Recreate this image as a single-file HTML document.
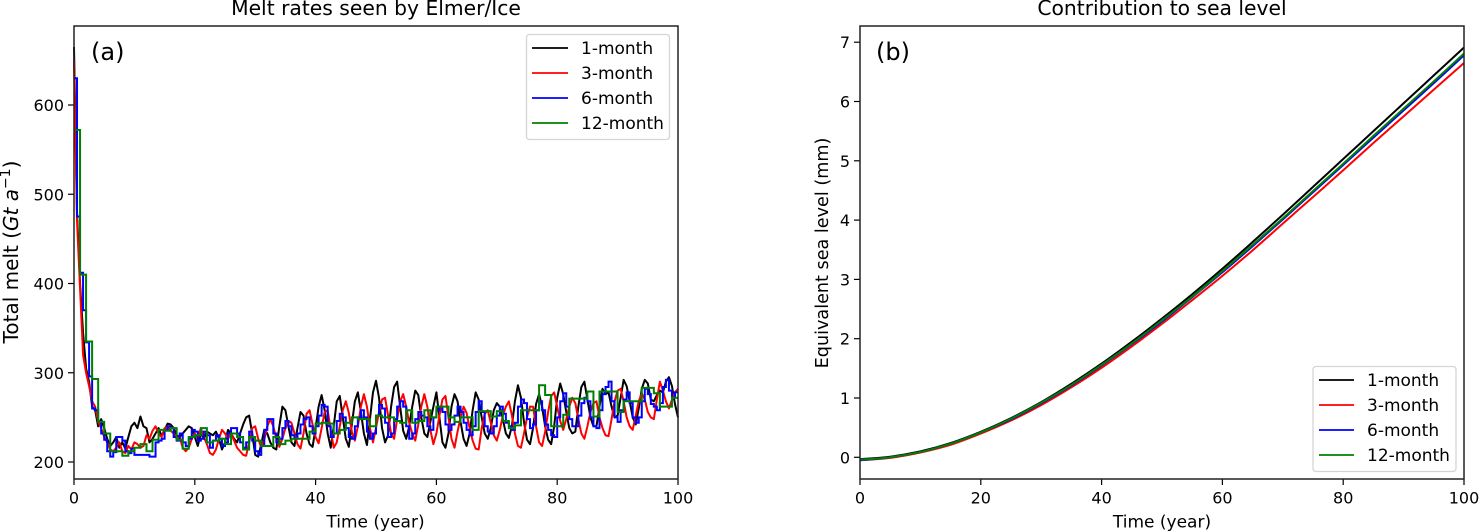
<!DOCTYPE html>
<html>
<head>
<meta charset="utf-8">
<title>Melt rates and sea level contribution</title>
<style>
html,body{margin:0;padding:0;background:#fff;}
svg{display:block;font-family:"DejaVu Sans","Liberation Sans",sans-serif;}
text{fill:#000;}
</style>
</head>
<body>
<svg id="fig" width="1480" height="532" viewBox="0 0 1480 532" xmlns="http://www.w3.org/2000/svg">
  <rect width="1480" height="532" fill="#fff"/>
  <g id="panelA"></g>
  <g id="panelB"></g>

  <text x="376" y="15" font-size="20.3" text-anchor="middle">Melt rates seen by Elmer/Ice</text>
  <text x="1162" y="15" font-size="20.3" text-anchor="middle">Contribution to sea level</text>
  <text x="91" y="60" font-size="24">(a)</text>
  <text x="876" y="60" font-size="24">(b)</text>
  <text x="375.5" y="527.5" font-size="17" text-anchor="middle">Time (year)</text>
  <text x="1162" y="527.5" font-size="17" text-anchor="middle">Time (year)</text>
  <text transform="translate(18,252) rotate(-90)" font-size="20" text-anchor="middle">Total melt (<tspan font-style="italic">Gt a</tspan><tspan dy="-8" font-size="14">−1</tspan><tspan dy="8">)</tspan></text>
  <text transform="translate(828,253) rotate(-90)" font-size="17.6" text-anchor="middle">Equivalent sea level (mm)</text>

  <g>
    <rect x="526.5" y="34.5" width="143" height="105" rx="3" fill="#fff" fill-opacity="0.85" stroke="#d5d5d5" stroke-width="1.3"/>
    <g><line x1="532" x2="568" y1="48" y2="48" stroke="#000" stroke-width="1.7"/><text x="581" y="54" font-size="17">1-month</text></g>
    <g><line x1="532" x2="568" y1="73" y2="73" stroke="#f00" stroke-width="1.7"/><text x="581" y="79" font-size="17">3-month</text></g>
    <g><line x1="532" x2="568" y1="98" y2="98" stroke="#00f" stroke-width="1.7"/><text x="581" y="104" font-size="17">6-month</text></g>
    <g><line x1="532" x2="568" y1="123" y2="123" stroke="#008000" stroke-width="1.7"/><text x="581" y="129" font-size="17">12-month</text></g>
  </g>
  <g>
    <rect x="1313" y="366.5" width="143" height="105" rx="3" fill="#fff" fill-opacity="0.85" stroke="#d5d5d5" stroke-width="1.3"/>
    <g><line x1="1319" x2="1354" y1="380" y2="380" stroke="#000" stroke-width="1.7"/><text x="1367" y="386" font-size="17">1-month</text></g>
    <g><line x1="1319" x2="1354" y1="405" y2="405" stroke="#f00" stroke-width="1.7"/><text x="1367" y="411" font-size="17">3-month</text></g>
    <g><line x1="1319" x2="1354" y1="430" y2="430" stroke="#00f" stroke-width="1.7"/><text x="1367" y="436" font-size="17">6-month</text></g>
    <g><line x1="1319" x2="1354" y1="455" y2="455" stroke="#008000" stroke-width="1.7"/><text x="1367" y="461" font-size="17">12-month</text></g>
  </g>
</svg>
<script>
// Panel (a): total melt, sampled every half year for the 1-, 3-, 6-month runs, yearly for the 12-month run
const melt1Month = [665,480,400,345,305,290,262,258,240,248,238,226,218,222,228,216,222,215,228,240,244,238,251,240,238,222,226,232,238,229,236,243,242,
238,230,228,232,236,240,238,228,218,232,226,234,232,230,234,226,214,222,236,232,226,222,232,242,250,252,232,208,206,220,236,232,222,216,214,240,262,258,240,222,218,238,256,252,232,220,217,238,262,275,258,232,216,240,268,274,250,226,217,242,268,278,256,232,219,248,278,291,272,238,222,230,262,284,290,262,235,226,240,262,280,275,250,232,228,245,262,
278,250,222,216,232,262,276,268,245,226,218,232,258,278,270,250,232,226,238,258,266,262,248,232,227,240,268,286,272,245,225,220,238,265,276,262,240,225,220,240,272,288,276,256,238,232,234,262,284,290,270,250,240,240,262,282,276,278,262,250,252,272,292,285,268,250,242,260,282,292,288,270,268,275,280,278,290,295,285,265,250];
const melt3Month = [650,470,395,320,300,285,268,262,245,238,228,222,214,212,216,222,212,210,218,214,222,220,216,218,230,226,235,240,232,228,238,240,
235,232,226,228,216,212,216,226,232,226,238,228,220,210,208,214,226,236,232,226,232,224,216,212,208,207,222,238,240,226,216,225,240,248,240,226,217,226,238,246,244,232,220,215,232,254,258,242,228,221,238,256,258,236,216,222,240,258,268,255,234,224,240,262,276,262,238,222,238,256,270,272,252,232,226,248,268,276,262,244,232,224,242,262,276,262,236,220,
232,252,270,274,250,226,216,234,250,262,255,238,224,215,214,238,254,258,244,230,224,236,252,262,268,252,232,218,216,232,250,262,262,240,222,218,234,256,274,278,262,246,236,248,262,272,266,248,232,226,240,256,266,268,250,238,230,229,248,268,280,282,268,250,240,236,252,268,277,270,256,250,248,270,290,280,268,260,270,278,282];
const melt6Month = [630,475,412,370,334,296,260,258,245,232,225,212,206,211,228,228,224,212,210,215,208,208,208,208,208,206,206,222,224,226,236,240,
238,228,224,232,222,218,226,236,234,224,226,234,230,216,224,230,226,218,222,232,238,238,232,222,216,222,234,224,212,208,218,236,248,248,232,222,226,238,246,240,230,226,232,242,248,250,240,232,240,252,264,262,240,228,232,246,254,250,238,228,226,240,250,258,250,234,226,232,252,264,260,244,228,232,248,262,268,262,240,226,232,248,256,252,250,240,236,250,
258,262,256,242,236,242,252,262,256,244,236,230,240,256,268,256,240,234,232,240,252,262,254,244,240,236,244,262,270,266,248,238,242,258,268,258,242,236,230,228,250,268,277,262,248,240,240,252,266,272,268,250,240,238,258,276,284,290,268,250,245,258,270,278,266,250,244,250,268,282,276,265,262,258,266,284,292,280,272,278];
const melt12Month = [572,410,335,293,245,232,212,212,207,212,216,220,212,225,236,235,238,225,215,228,230,238,222,224,226,220,232,228,214,228,224,218,218,228,220,224,226,226,226,234,243,244,243,232,236,244,250,248,248,240,252,250,250,246,244,258,244,246,258,250,262,262,250,245,250,250,236,257,257,251,257,246,238,241,258,258,258,286,275,240,240,253,271,271,271,279,251,279,279,279,256,268,268,268,283,283,277,262,262,272];
const meltTicksX = [0,20,40,60,80,100];
const meltTicksY = [200,300,400,500,600];

// Panel (b): equivalent sea level, sampled every five years
const sea1Month = [-0.03,0.01,0.10,0.24,0.43,0.66,0.93,1.24,1.58,1.95,2.34,2.75,3.18,3.63,4.09,4.56,5.03,5.50,5.97,6.44,6.91];
const sea3Month = [-0.05,-0.01,0.08,0.21,0.40,0.62,0.88,1.18,1.51,1.87,2.25,2.65,3.06,3.49,3.94,4.39,4.84,5.30,5.75,6.20,6.65];
const sea6Month = [-0.05,0,0.09,0.23,0.42,0.64,0.91,1.21,1.55,1.91,2.29,2.70,3.12,3.56,4.01,4.47,4.93,5.39,5.85,6.31,6.78];
const sea12Month = [-0.04,0,0.09,0.23,0.42,0.65,0.92,1.22,1.56,1.92,2.31,2.71,3.14,3.58,4.03,4.49,4.95,5.42,5.88,6.34,6.81];
const seaTicksX = [0,20,40,60,80,100];
const seaTicksY = [0,1,2,3,4,5,6,7];

const SVG_NS = 'http://www.w3.org/2000/svg';
const xA = t => 74 + t * 6.04;
const yA = v => 462 - (v - 200) * 0.8925;
const xB = t => 860 + t * 6.04;
const yB = v => 457.3 - v * 59.3;

function make(parent, tag, attrs, content) {
  const el = document.createElementNS(SVG_NS, tag);
  for (const k in attrs) el.setAttribute(k, attrs[k]);
  if (content !== undefined) el.textContent = content;
  parent.appendChild(el);
  return el;
}

function drawAxes(panel, box, ticksX, ticksY, x, y, prefix) {
  for (const t of ticksX) {
    const px = x(t);
    const tick = make(panel, 'line', {x1: px, x2: px, y1: box.bottom, y2: box.bottom + 6, stroke: '#000', 'stroke-width': 1.2});
    
    
    const label = make(panel, 'text', {x: px, y: box.bottom + 24.5, 'font-size': 16, 'text-anchor': 'middle'}, String(t));
    
    
  }
  for (const v of ticksY) {
    const py = y(v);
    const tick = make(panel, 'line', {x1: box.left - 6, x2: box.left, y1: py, y2: py, stroke: '#000', 'stroke-width': 1.2});
    
    
    const label = make(panel, 'text', {x: box.left - 10, y: py + 6, 'font-size': 16, 'text-anchor': 'end'}, String(v));
    
    
  }
}

function drawFrame(panel, box, prefix) {
  const frame = make(panel, 'rect', {x: box.left, y: box.top, width: box.right - box.left, height: box.bottom - box.top, fill: 'none', stroke: '#222', 'stroke-width': 1.5});
  
  
}

function drawLine(panel, values, dt, x, y, color, name) {
  const pts = values.map((v, i) => x(i * dt).toFixed(2) + ',' + y(v).toFixed(2));
  const line = make(panel, 'polyline', {points: pts.join(' '), fill: 'none', stroke: color, 'stroke-width': 2, 'stroke-linejoin': 'round'});
  
  
}

function drawSteps(panel, values, dt, x, y, color, name) {
  const pts = [];
  values.forEach((v, i) => {
    pts.push(x(i * dt).toFixed(2) + ',' + y(v).toFixed(2));
    pts.push(x((i + 1) * dt).toFixed(2) + ',' + y(v).toFixed(2));
  });
  const line = make(panel, 'polyline', {points: pts.join(' '), fill: 'none', stroke: color, 'stroke-width': 2, 'stroke-linejoin': 'miter'});
  
  
}

function drawSmooth(panel, values, dt, x, y, color, name) {
  const p = values.map((v, i) => [x(i * dt), y(v)]);
  let d = 'M' + p[0][0].toFixed(2) + ' ' + p[0][1].toFixed(2);
  for (let i = 0; i < p.length - 1; i++) {
    const p0 = p[Math.max(i - 1, 0)], p1 = p[i], p2 = p[i + 1], p3 = p[Math.min(i + 2, p.length - 1)];
    const c1x = p1[0] + (p2[0] - p0[0]) / 6, c1y = p1[1] + (p2[1] - p0[1]) / 6;
    const c2x = p2[0] - (p3[0] - p1[0]) / 6, c2y = p2[1] - (p3[1] - p1[1]) / 6;
    d += 'C' + c1x.toFixed(2) + ' ' + c1y.toFixed(2) + ' ' + c2x.toFixed(2) + ' ' + c2y.toFixed(2) + ' ' + p2[0].toFixed(2) + ' ' + p2[1].toFixed(2);
  }
  const line = make(panel, 'path', {d: d, fill: 'none', stroke: color, 'stroke-width': 2});
  
  
}

const panelA = document.getElementById('panelA');
const panelB = document.getElementById('panelB');
const boxA = {left: 74, right: 678, top: 26, bottom: 479};
const boxB = {left: 860, right: 1464, top: 26, bottom: 479};

drawLine(panelA, melt1Month, 0.5, xA, yA, '#000', 'melt-line-1-month');
drawLine(panelA, melt3Month, 0.5, xA, yA, '#f00', 'melt-line-3-month');
drawSteps(panelA, melt6Month, 0.5, xA, yA, '#00f', 'melt-line-6-month');
drawSteps(panelA, melt12Month, 1, xA, yA, '#008000', 'melt-line-12-month');
drawAxes(panelA, boxA, meltTicksX, meltTicksY, xA, yA, 'melt');
drawFrame(panelA, boxA, 'melt');

drawSmooth(panelB, sea1Month, 5, xB, yB, '#000', 'sea-level-line-1-month');
drawSmooth(panelB, sea3Month, 5, xB, yB, '#f00', 'sea-level-line-3-month');
drawSmooth(panelB, sea6Month, 5, xB, yB, '#00f', 'sea-level-line-6-month');
drawSmooth(panelB, sea12Month, 5, xB, yB, '#008000', 'sea-level-line-12-month');
drawAxes(panelB, boxB, seaTicksX, seaTicksY, xB, yB, 'sea-level');
drawFrame(panelB, boxB, 'sea-level');
</script>
</body>
</html>
